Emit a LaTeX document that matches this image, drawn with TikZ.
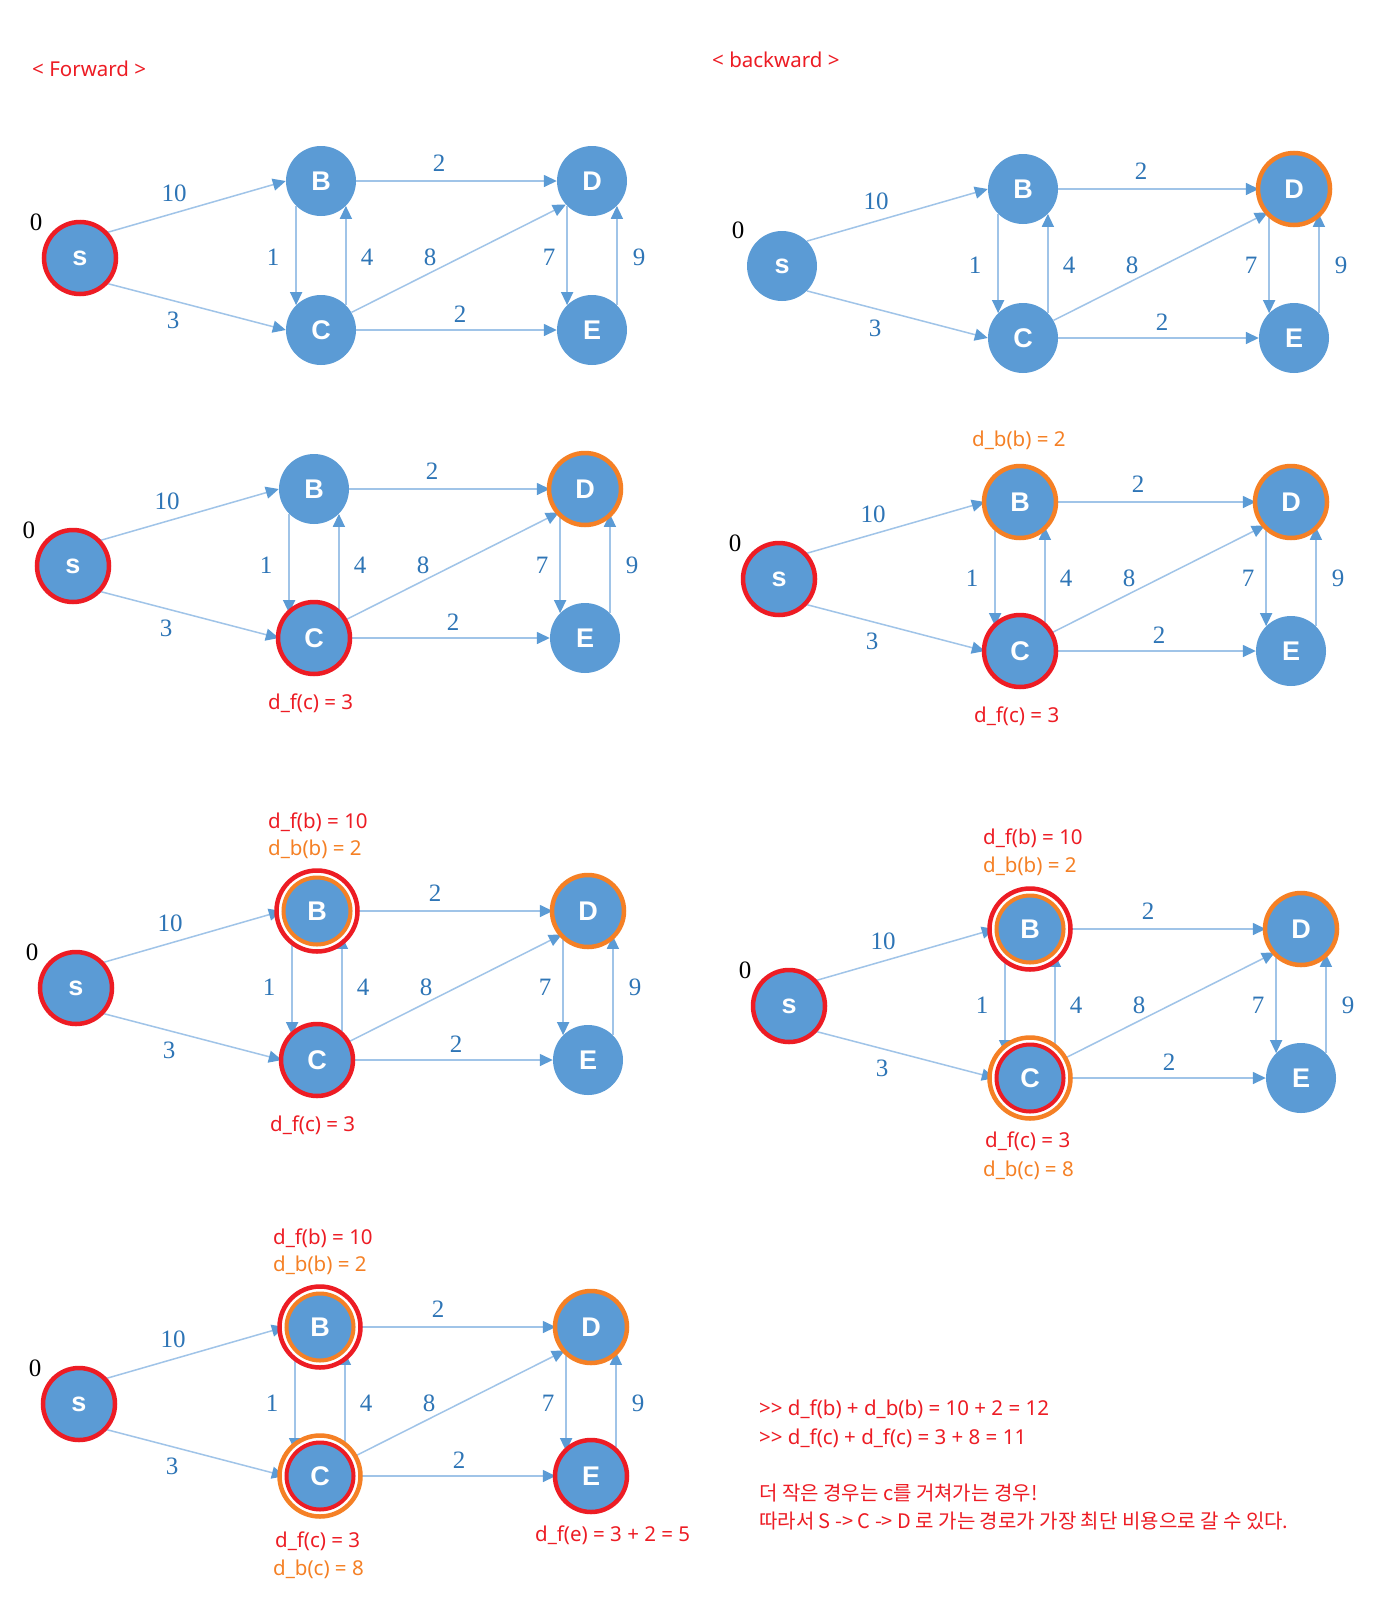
\documentclass[tikz,border=0pt]{standalone}
\usepackage{fontspec}
\setmainfont{Noto Sans}
\newfontfamily\krfont{Noto Sans CJK KR}
\newfontfamily\lserif{Liberation Serif}
\newfontfamily\lsans{Liberation Sans}
\usetikzlibrary{arrows.meta,calc}
\definecolor{nodeblue}{RGB}{91,155,213}
\definecolor{edgeblue}{RGB}{160,196,232}
\definecolor{labblue}{RGB}{46,117,182}
\definecolor{myred}{RGB}{237,28,36}
\definecolor{myorange}{RGB}{245,128,37}
\newcommand\gpanel[3]{%
\begin{scope}[shift={(#2,#3)}]
\node[gnode] (#1s) at (0,0) {s};
\node[gnode] (#1B) at (241,-77) {B};
\node[gnode] (#1C) at (241,72) {C};
\node[gnode] (#1D) at (512,-77) {D};
\node[gnode] (#1E) at (512,72) {E};
\node[zero] (#1z) at (-44,-36) {0};
\draw[edge] (#1s.45) -- (#1B.west);
\draw[edge] (#1s.-45) -- (#1C.west);
\draw[edge] (#1B.east) -- (#1D.west);
\draw[edge] (#1C.east) -- (#1E.west);
\draw[edge] (#1B.225) -- (#1C.135);
\draw[edge] (#1C.45) -- (#1B.-45);
\draw[edge] (#1C.30) -- (#1D.222);
\draw[edge] (#1D.225) -- (#1E.135);
\draw[edge] (#1E.45) -- (#1D.-45);
\node[wlab] (#1wa) at (94,-65) {10};
\node[wlab] (#1wb) at (93,62) {3};
\node[wlab] (#1wc) at (193,-1) {1};
\node[wlab] (#1wd) at (287,-1) {4};
\node[wlab] (#1we) at (350,-1) {8};
\node[wlab] (#1wf) at (359,-95) {2};
\node[wlab] (#1wg) at (380,56) {2};
\node[wlab] (#1wh) at (469,-1) {7};
\node[wlab] (#1wi) at (559,-1) {9};
\end{scope}}
\newcommand\sring[2]{\draw[line width=4.5pt,draw=#2] (#1.center) circle[radius=36pt];}
\newcommand\dring[3]{%
\draw[line width=3pt,draw=white] (#1.center) circle[radius=37pt];
\draw[line width=4.5pt,draw=#2] (#1.center) circle[radius=40.5pt];
\draw[line width=4pt,draw=#3] (#1.center) circle[radius=33.5pt];}
\begin{document}
\begin{tikzpicture}[x=1pt,y=-1pt,
 gnode/.style={circle,fill=nodeblue,minimum size=70pt,inner sep=0pt,text=white,font=\lsans\bfseries\fontsize{27}{27}\selectfont},
 edge/.style={draw=edgeblue,line width=1.5pt,-{Triangle[length=13pt,width=12pt,color=nodeblue]}},
 wlab/.style={text=labblue,font=\lserif\fontsize{25}{25}\selectfont,inner sep=0pt},
 zero/.style={text=black,font=\lserif\fontsize{25}{25}\selectfont,inner sep=0pt},
 redtxt/.style={text=myred,font=\fontsize{20.5}{21}\selectfont,inner sep=0pt,anchor=west},
 orgtxt/.style={text=myorange,font=\fontsize{20.5}{21}\selectfont,inner sep=0pt,anchor=west},
 krtxt/.style={text=myred,font=\krfont\fontsize{20}{21}\selectfont,inner sep=0pt,anchor=west},
]
\fill[white] (0,0) rectangle (1376,1606);
\useasboundingbox (0,0) rectangle (1376,1606);

\node[redtxt] (hf) at (32,69) {< Forward >};
\node[redtxt] (hb) at (712,60) {< backward >};

\gpanel{p1}{80}{258}
\gpanel{p2}{782}{266}
\gpanel{p3}{73}{566}
\gpanel{p4}{779}{579}
\gpanel{p5}{76}{988}
\gpanel{p6}{789}{1006}
\gpanel{p7}{79}{1404}

% rings
\sring{p1s}{myred}
\sring{p2D}{myorange}
\sring{p3s}{myred}\sring{p3C}{myred}\sring{p3D}{myorange}
\sring{p4s}{myred}\sring{p4B}{myorange}\sring{p4C}{myred}\sring{p4D}{myorange}
\sring{p5s}{myred}\dring{p5B}{myred}{myorange}\sring{p5C}{myred}\sring{p5D}{myorange}
\sring{p6s}{myred}\dring{p6B}{myred}{myorange}\dring{p6C}{myorange}{myred}\sring{p6D}{myorange}
\sring{p7s}{myred}\dring{p7B}{myred}{myorange}\dring{p7C}{myorange}{myred}\sring{p7D}{myorange}\sring{p7E}{myred}

% annotations
\node[redtxt] (a3c) at (268,703) {d\_f(c) = 3};
\node[orgtxt] (a4b) at (972,440) {d\_b(b) = 2};
\node[redtxt] (a4c) at (974,716) {d\_f(c) = 3};
\node[redtxt] (a5b) at (268,822) {d\_f(b) = 10};
\node[orgtxt] (a5bb) at (268,849) {d\_b(b) = 2};
\node[redtxt] (a5c) at (270,1125) {d\_f(c) = 3};
\node[redtxt] (a6b) at (983,838) {d\_f(b) = 10};
\node[orgtxt] (a6bb) at (983,866) {d\_b(b) = 2};
\node[redtxt] (a6c) at (985,1141) {d\_f(c) = 3};
\node[orgtxt] (a6cc) at (983,1170) {d\_b(c) = 8};
\node[redtxt] (a7b) at (273,1238) {d\_f(b) = 10};
\node[orgtxt] (a7bb) at (273,1265) {d\_b(b) = 2};
\node[redtxt] (a7c) at (275,1541) {d\_f(c) = 3};
\node[orgtxt] (a7cc) at (273,1569) {d\_b(c) = 8};
\node[redtxt] (a7e) at (535,1535) {d\_f(e) = 3 + 2 = 5};

\node[redtxt] (t1) at (759,1409) {>{}> d\_f(b) + d\_b(b) = 10 + 2 = 12};
\node[redtxt] (t2) at (759,1438) {>{}> d\_f(c) + d\_f(c) = 3 + 8 = 11};
\node[krtxt] (t3) at (759,1493) {더 작은 경우는 c를 거쳐가는 경우!};
\node[krtxt] (t4) at (759,1521) {따라서 S -> C -> D 로 가는 경로가 가장 최단 비용으로 갈 수 있다.};
\end{tikzpicture}
\end{document}
